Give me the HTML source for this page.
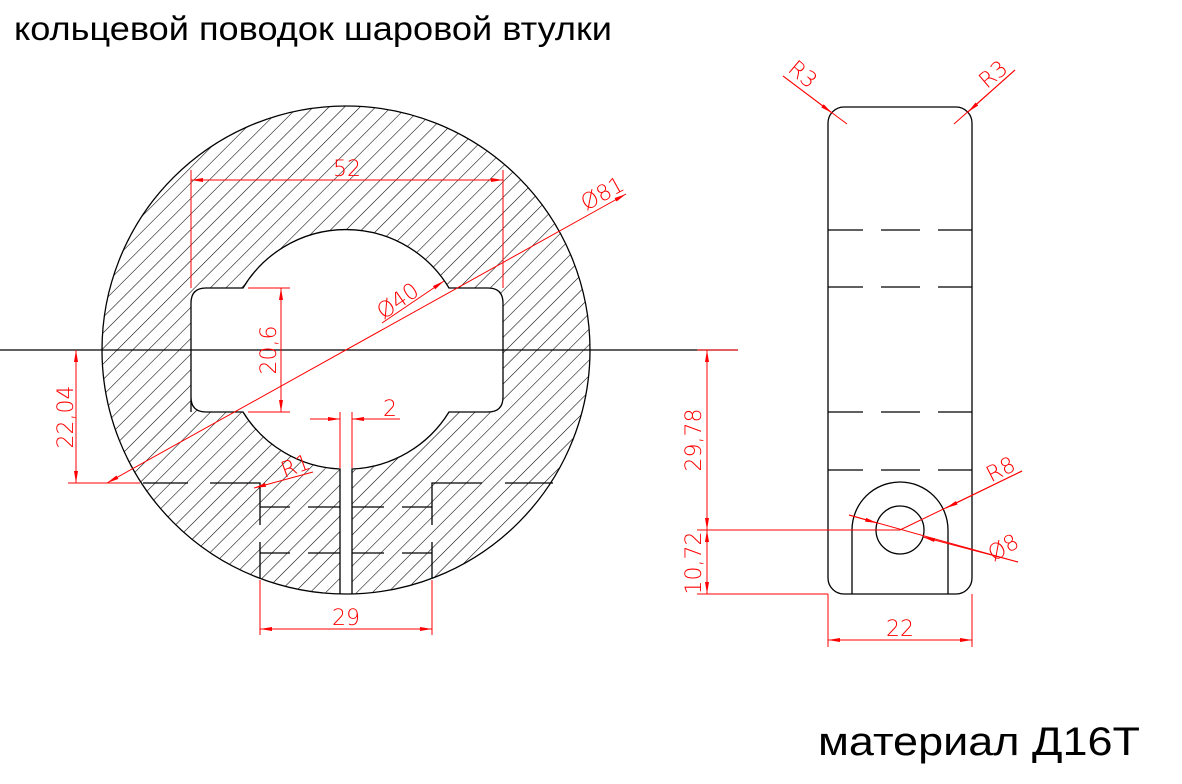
<!DOCTYPE html>
<html><head><meta charset="utf-8"><style>
html,body{margin:0;padding:0;background:#fff;width:1182px;height:784px;overflow:hidden}
svg{display:block}
text{font-family:"Liberation Sans","DejaVu Sans",sans-serif}
.d{fill:red;font-family:"DejaVu Sans","Liberation Sans",sans-serif;font-size:22px;font-weight:200}
</style></head><body>
<svg width="1182" height="784" viewBox="0 0 1182 784" xmlns="http://www.w3.org/2000/svg">
<defs>
<pattern id="h" width="11" height="40" patternUnits="userSpaceOnUse" patternTransform="rotate(45)">
<line x1="0" y1="-5" x2="0" y2="45" stroke="#000" stroke-width="1.1"/>
</pattern>
<marker id="a" viewBox="0 0 12 4" refX="12" refY="2" markerWidth="12" markerHeight="4" markerUnits="userSpaceOnUse" orient="auto-start-reverse"><path d="M0,0 L12,2 L0,4Z" fill="red"/></marker>
</defs>
<text x="14" y="40" font-size="33" fill="#000" textLength="598" lengthAdjust="spacingAndGlyphs">кольцевой поводок шаровой втулки</text>
<text x="818" y="755" font-size="40" fill="#000" textLength="322" lengthAdjust="spacingAndGlyphs">материал Д16Т</text>

<!-- left view -->
<circle cx="346" cy="350" r="244" fill="url(#h)"/>
<g fill="#fff">
<rect x="191" y="288" width="312" height="124" rx="15"/>
<circle cx="346" cy="350" r="120"/>
<rect x="340" y="400" width="12" height="200"/>
</g>
<g fill="none" stroke="#000" stroke-width="1.3">
<circle cx="346" cy="350" r="244"/>
<path d="M191,412 L191,303 Q191,288 206,288 L243,288 A120,120 0 0 1 449,288 L488,288 Q503,288 503,303 L503,397 Q503,412 488,412 L449,412 A120,120 0 0 1 352,469 L352,594 M340,594 L340,469 A120,120 0 0 1 243,412 L206,412 Q191,412 191,397 L191,412"/>
<line x1="0" y1="350" x2="738" y2="350"/>
<path d="M143,483 H188 M210,483 H260 V525 M260,542 V579 M432,579 V542 M432,525 V483 H482 M505,483 H553"/>
<path d="M260,507 H290 M308,507 H340 M352,507 H384 M402,507 H432 M260,553 H290 M308,553 H340 M352,553 H384 M402,553 H432"/>
</g>
<g stroke="red" stroke-width="1" fill="none">
<line x1="68" y1="483" x2="140" y2="483"/>
<line x1="76" y1="350" x2="76" y2="483" marker-start="url(#a)" marker-end="url(#a)"/>
<line x1="107" y1="483" x2="626" y2="194" marker-start="url(#a)" marker-end="url(#a)"/>
<line x1="382" y1="323" x2="444" y2="281" marker-end="url(#a)"/>
<line x1="191" y1="170" x2="191" y2="288"/><line x1="503" y1="170" x2="503" y2="288"/>
<line x1="191" y1="180" x2="503" y2="180" marker-start="url(#a)" marker-end="url(#a)"/>
<line x1="248" y1="288" x2="290" y2="288"/><line x1="248" y1="412" x2="290" y2="412"/>
<line x1="281" y1="288" x2="281" y2="412" marker-start="url(#a)" marker-end="url(#a)"/>
<line x1="340" y1="412" x2="340" y2="468"/><line x1="352" y1="412" x2="352" y2="468"/>
<line x1="310" y1="419" x2="340" y2="419" marker-end="url(#a)"/>
<line x1="400" y1="419" x2="352" y2="419" marker-end="url(#a)"/>
<line x1="313" y1="472" x2="254" y2="488" marker-end="url(#a)"/>
<line x1="260" y1="580" x2="260" y2="635"/><line x1="432" y1="580" x2="432" y2="635"/>
<line x1="260" y1="629" x2="432" y2="629" marker-start="url(#a)" marker-end="url(#a)"/>
</g>
<text class="d" x="347" y="176" text-anchor="middle">52</text>
<text class="d" transform="translate(73,417) rotate(-90)" text-anchor="middle">22,04</text>
<text class="d" transform="translate(276,350) rotate(-90)" text-anchor="middle">20,6</text>
<text class="d" transform="translate(402,307) rotate(-35)" text-anchor="middle">Ø40</text>
<text class="d" transform="translate(606,200) rotate(-29)" text-anchor="middle">Ø81</text>
<text class="d" x="383" y="416">2</text>
<text class="d" transform="translate(298,473) rotate(-20)" text-anchor="middle" font-size="17">R1</text>
<text class="d" x="346" y="625" text-anchor="middle">29</text>

<!-- right view -->
<g fill="none" stroke="#000" stroke-width="1.3">
<rect x="828" y="107" width="144" height="487" rx="16"/>
<path d="M852,594 V530 A48,48 0 0 1 948,530 V594"/>
<circle cx="900" cy="530" r="24"/>
<path d="M828,230 H863 M881,230 H920 M938,230 H972 M828,287 H863 M881,287 H920 M938,287 H972 M828,412 H863 M881,412 H920 M938,412 H972 M828,470 H863 M881,470 H920 M938,470 H972"/>
</g>
<g stroke="red" stroke-width="1" fill="none">
<line x1="697" y1="350" x2="738" y2="350"/>
<line x1="697" y1="530" x2="900" y2="530"/>
<line x1="697" y1="594" x2="828" y2="594"/>
<line x1="707" y1="350" x2="707" y2="530" marker-start="url(#a)" marker-end="url(#a)"/>
<line x1="707" y1="530" x2="707" y2="594" marker-start="url(#a)" marker-end="url(#a)"/>
<line x1="828" y1="594" x2="828" y2="647"/><line x1="972" y1="594" x2="972" y2="647"/>
<line x1="828" y1="640" x2="972" y2="640" marker-start="url(#a)" marker-end="url(#a)"/>
<line x1="900" y1="530" x2="1022" y2="471"/>
<line x1="1022" y1="471" x2="946" y2="508" marker-end="url(#a)"/>
<line x1="849" y1="515" x2="1018" y2="562"/>
<line x1="849" y1="515" x2="877" y2="523" marker-end="url(#a)"/>
<line x1="1018" y1="562" x2="923" y2="537" marker-end="url(#a)"/>
<line x1="783" y1="76" x2="847" y2="124"/>
<line x1="783" y1="76" x2="832" y2="113" marker-end="url(#a)"/>
<line x1="1015" y1="70" x2="954" y2="124"/>
<line x1="1015" y1="70" x2="968" y2="112" marker-end="url(#a)"/>
</g>
<text class="d" transform="translate(701,440) rotate(-90)" text-anchor="middle">29,78</text>
<text class="d" transform="translate(701,563) rotate(-90)" text-anchor="middle">10,72</text>
<text class="d" x="900" y="636" text-anchor="middle">22</text>
<text class="d" transform="translate(1004,476) rotate(-27)" text-anchor="middle">R8</text>
<text class="d" transform="translate(1007,554) rotate(-30)" text-anchor="middle">Ø8</text>
<text class="d" transform="translate(798,80) rotate(40)" text-anchor="middle">R3</text>
<text class="d" transform="translate(998,80) rotate(-40)" text-anchor="middle">R3</text>
</svg>
</body></html>
